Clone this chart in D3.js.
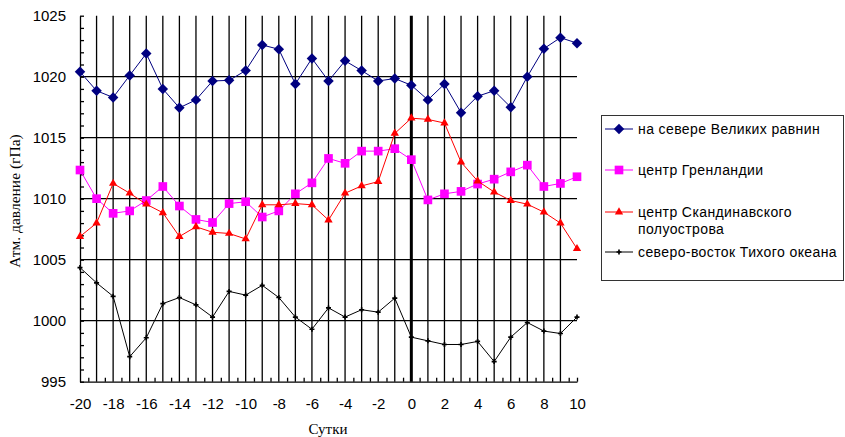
<!DOCTYPE html>
<html>
<head>
<meta charset="utf-8">
<script src="https://cdn.jsdelivr.net/npm/d3@7"></script>
<style>
  body { margin: 0; background: #fff; }
  svg { display: block; }
</style>
</head>
<body>
<div id="chart"></div>
<script>
// days from -20 to 10
const days = d3.range(-20, 11);

// pressure, hPa
const plains = [1020.4, 1018.85, 1018.3, 1020.1, 1021.9, 1019.0, 1017.45, 1018.1, 1019.65, 1019.7, 1020.5,
  1022.6, 1022.25, 1019.4, 1021.5, 1019.65, 1021.3, 1020.5, 1019.65, 1019.85, 1019.3,
  1018.1, 1019.4, 1017.05, 1018.4, 1018.85, 1017.5, 1020.0, 1022.3, 1023.2, 1022.75];
const greenland = [1012.35, 1010.0, 1008.8, 1009.0, 1009.85, 1011.0, 1009.4, 1008.3, 1008.05, 1009.6, 1009.75,
  1008.5, 1009.0, 1010.4, 1011.3, 1013.3, 1012.9, 1013.9, 1013.9, 1014.1, 1013.2,
  1009.9, 1010.4, 1010.6, 1011.2, 1011.6, 1012.2, 1012.75, 1011.0, 1011.25, 1011.8];
const scandinavia = [1006.9, 1008.0, 1011.25, 1010.45, 1009.55, 1008.85, 1006.9, 1007.7, 1007.25, 1007.15, 1006.7,
  1009.5, 1009.5, 1009.6, 1009.5, 1008.25, 1010.45, 1011.05, 1011.4, 1015.35, 1016.6,
  1016.5, 1016.2, 1013.0, 1011.45, 1010.55, 1009.85, 1009.55, 1008.9, 1008.0, 1005.9];
const pacific = [1004.35, 1003.1, 1002.0, 997.05, 998.6, 1001.4, 1001.9, 1001.3, 1000.3, 1002.4, 1002.1,
  1002.9, 1001.9, 1000.3, 999.3, 1001.05, 1000.3, 1000.9, 1000.7, 1001.85, 998.65,
  998.35, 998.05, 998.05, 998.3, 996.65, 998.65, 999.85, 999.15, 998.95, 1000.3];

const seriesNames = ["на севере Великих равнин", "центр Гренландии", "центр Скандинавского полуострова", "северо-восток Тихого океана"];
const seriesColors = ["#000080", "#ff00ff", "#ff0000", "#000000"];
const yTicks = [995, 1000, 1005, 1010, 1015, 1020, 1025];
const xTicks = d3.range(-20, 11, 2);

const width = 845, height = 437;

const svg = d3.select("#chart").append("svg")
  .attr("width", width)
  .attr("height", height);

const x = d3.scaleLinear().domain([-20, 10]).range([80, 577]);
const y = d3.scaleLinear().domain([995, 1025]).range([381.7, 15.7]);

// gridlines
svg.append("g")
  .selectAll("line")
  .data(d3.range(1000, 1021, 5))
  .enter().append("line")
    .attr("x1", x(-20)).attr("x2", x(10))
    .attr("y1", d => y(d)).attr("y2", d => y(d))
    .attr("stroke", "#000").attr("stroke-width", 1.3);

svg.append("g")
  .selectAll("line")
  .data(d3.range(-19, 10))
  .enter().append("line")
    .attr("x1", d => x(d)).attr("x2", d => x(d))
    .attr("y1", y(1025)).attr("y2", y(995))
    .attr("stroke", "#000")
    .attr("stroke-width", d => d === 0 ? 3 : 1.3);

// axes: minor ticks pointing inward
svg.append("g")
  .attr("transform", `translate(${x(-20)},0)`)
  .call(d3.axisLeft(y).tickValues(d3.range(995, 1026)).tickSize(-4).tickSizeOuter(0).tickFormat(""))
  .call(g => g.selectAll("line, path").attr("stroke", "#000").attr("stroke-width", 1.3));

svg.append("g")
  .attr("transform", `translate(0,${y(995)})`)
  .call(d3.axisBottom(x).tickValues(d3.range(-19.5, 10, 1).concat([10])).tickSize(-4).tickSizeOuter(0).tickFormat(""))
  .call(g => g.selectAll("line, path").attr("stroke", "#000").attr("stroke-width", 1.3));

// tick labels
svg.append("g")
  .attr("transform", `translate(${x(-20)},0)`)
  .call(d3.axisLeft(y).tickValues(yTicks).tickSize(0).tickPadding(14).tickFormat(d3.format("d")))
  .call(g => g.select(".domain").remove())
  .selectAll("text")
    .attr("font-family", "Arial, 'Liberation Sans', sans-serif")
    .attr("font-size", "15px")
    .attr("fill", "#000");

svg.append("g")
  .attr("transform", `translate(0,${y(995)})`)
  .call(d3.axisBottom(x).tickValues(xTicks).tickSize(0).tickPadding(17).tickFormat(d => d < 0 ? "-" + Math.abs(d) : d))
  .call(g => g.select(".domain").remove())
  .selectAll("text")
    .attr("font-family", "Arial, 'Liberation Sans', sans-serif")
    .attr("font-size", "15px")
    .attr("fill", "#000");

// axis titles
svg.append("text")
  .attr("transform", `translate(20,201) rotate(-90)`)
  .attr("text-anchor", "middle")
  .attr("font-family", "'Liberation Serif', 'Times New Roman', serif")
  .attr("font-size", "15.5px")
  .text("Атм. давление (гПа)");

svg.append("text")
  .attr("x", 328).attr("y", 434)
  .attr("text-anchor", "middle")
  .attr("font-family", "'Liberation Serif', 'Times New Roman', serif")
  .attr("font-size", "15px")
  .text("Сутки");

// series
const allSeries = [plains, greenland, scandinavia, pacific];
const symbols = [d3.symbolSquare, d3.symbolSquare, d3.symbolTriangle, d3.symbolCross];
const symSizes = [55, 75, 30, 14];
const symRotate = [45, 0, 0, 0];

const line = d3.line()
  .x((d, i) => x(days[i]))
  .y(d => y(d));

allSeries.forEach((vals, s) => {
  const g = svg.append("g");
  g.append("path")
    .datum(vals)
    .attr("fill", "none")
    .attr("stroke", seriesColors[s])
    .attr("stroke-width", 1)
    .attr("d", line);
  g.selectAll("path.mk")
    .data(vals)
    .enter().append("path")
      .attr("class", "mk")
      .attr("transform", (d, i) => `translate(${x(days[i])},${y(d)}) rotate(${symRotate[s]})`)
      .attr("d", d3.symbol().type(symbols[s]).size(symSizes[s]))
      .attr("fill", seriesColors[s]);
});

// legend
const legend = svg.append("g");
legend.append("rect")
  .attr("x", 601.5).attr("y", 115.5)
  .attr("width", 242).attr("height", 165)
  .attr("fill", "#fff")
  .attr("stroke", "#333")
  .attr("stroke-width", 1);

const legendY = [129, 170, 212, 252];
const legendLines = [[seriesNames[0]], [seriesNames[1]], ["центр Скандинавского", "полуострова"], [seriesNames[3]]];

legendY.forEach((ly, s) => {
  legend.append("line")
    .attr("x1", 605).attr("x2", 633)
    .attr("y1", ly).attr("y2", ly)
    .attr("stroke", seriesColors[s]).attr("stroke-width", 1);
  legend.append("path")
    .attr("transform", `translate(619,${ly}) rotate(${symRotate[s]})`)
    .attr("d", d3.symbol().type(symbols[s]).size(symSizes[s]))
    .attr("fill", seriesColors[s]);
  const t = legend.append("text")
    .attr("x", 638).attr("y", ly + 5)
    .attr("font-family", "Arial, 'Liberation Sans', sans-serif")
    .attr("font-size", "14px")
    .attr("letter-spacing", "0.4px")
    .attr("fill", "#000");
  legendLines[s].forEach((str, k) => {
    t.append("tspan").attr("x", 638).attr("dy", k === 0 ? 0 : 17).text(str);
  });
});
</script>
</body>
</html>
